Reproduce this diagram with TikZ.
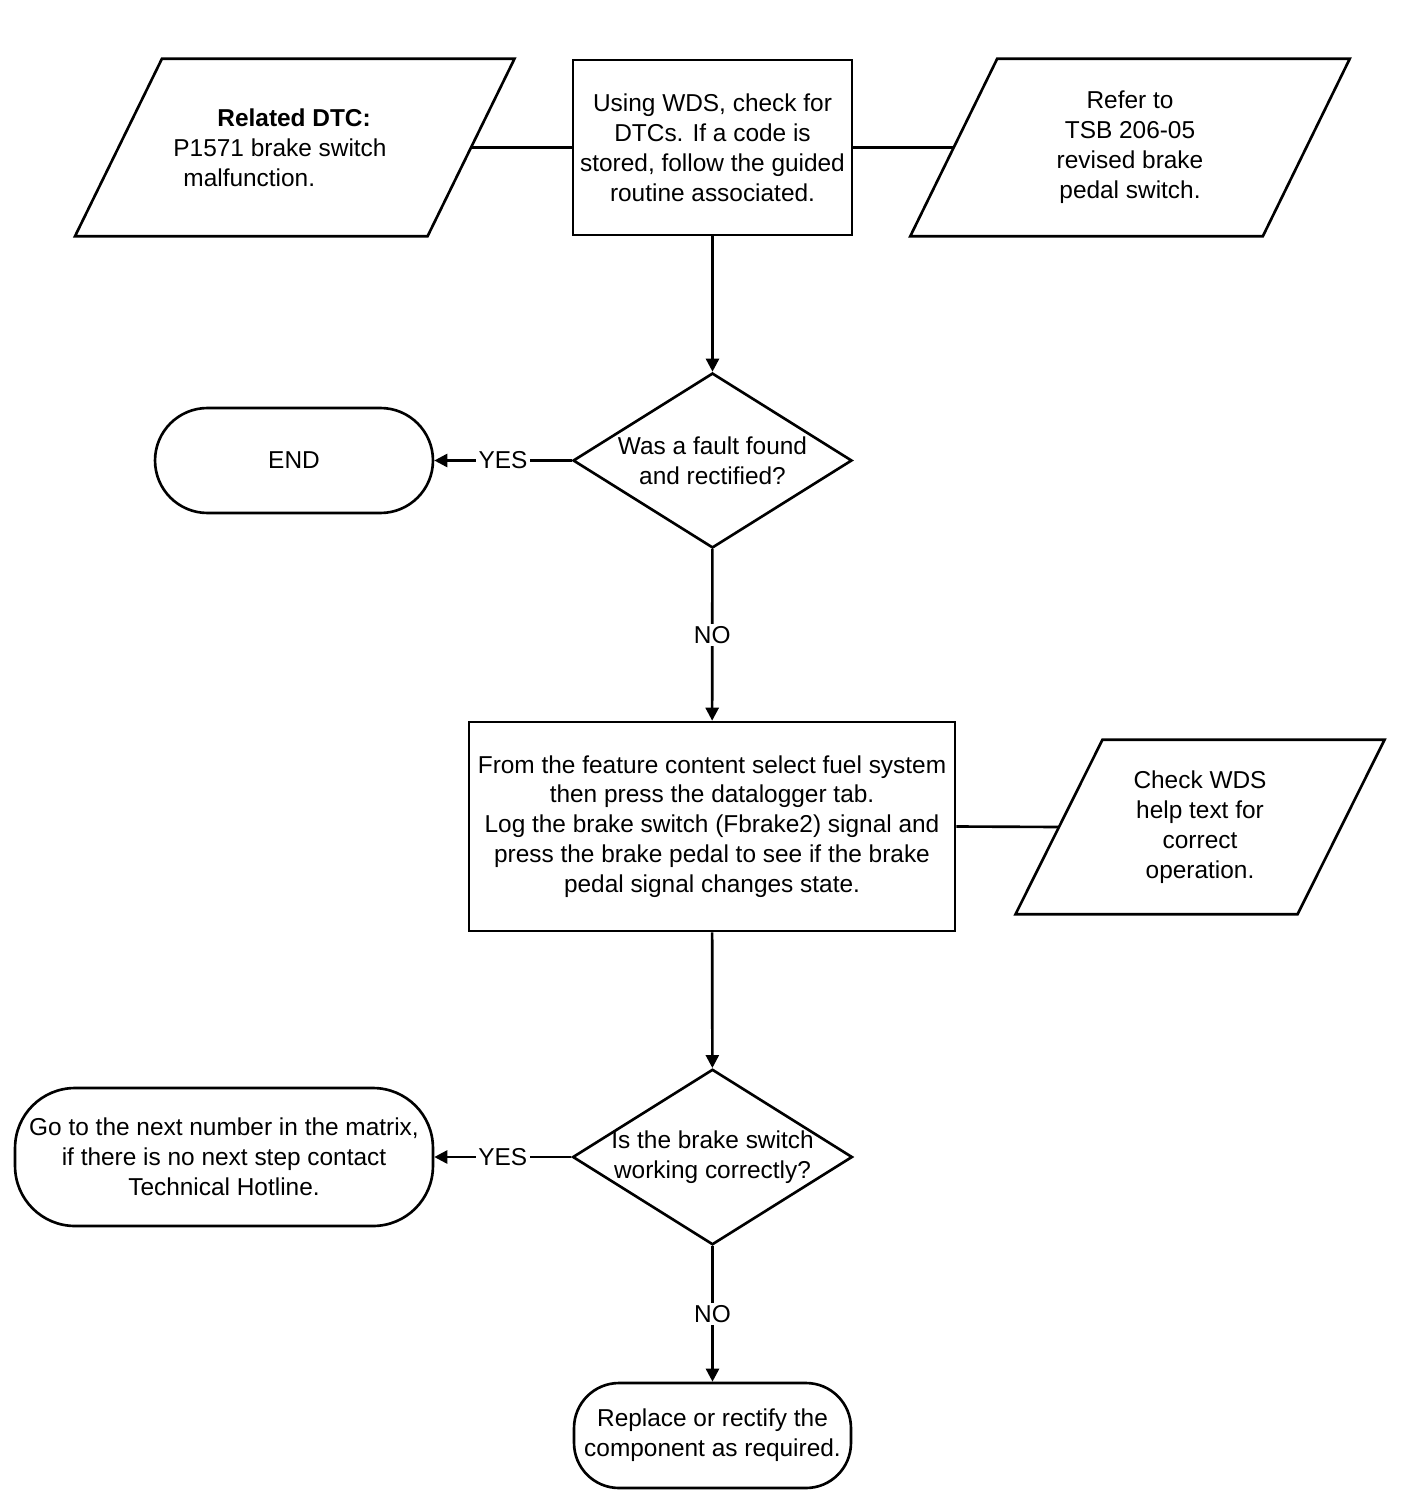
\documentclass[tikz,border=0pt]{standalone}
\usepackage{fontspec}
\setmainfont{Liberation Sans}
\usetikzlibrary{shapes.geometric,arrows.meta}

\begin{document}
\begin{tikzpicture}[x=0.02cm,y=-0.02cm,line width=1.5pt,
  every node/.style={font=\fontsize{13.9}{17}\selectfont},
  io/.style={rectangle,minimum width=7cm,minimum height=3.5cm,inner sep=0pt,align=center,
    append after command={\pgfextra{\draw ([xshift=0.87cm]\tikzlastnode.north west) -- ([xshift=0.87cm]\tikzlastnode.north east)
      -- ([xshift=-0.87cm]\tikzlastnode.south east) -- ([xshift=-0.87cm]\tikzlastnode.south west) -- cycle;}}},
  proc/.style={rectangle,draw,inner sep=0pt,align=center},
  dec/.style={diamond,draw,aspect=1.594,minimum width=5.58cm,minimum height=3.5cm,inner sep=-0.7pt,align=center},
  term/.style={rectangle,draw,inner sep=0pt,align=center},
  flow/.style={-{Triangle[length=0.26cm,width=0.26cm]}},
  lab/.style={fill=white,inner sep=1.5pt}]
\useasboundingbox (0,0) rectangle (1408,1500);

% top row
\node [io,align=left] (dtc) at (294.75,147.5) {\hspace*{0.88cm}\textbf{Related DTC:}\\P1571 brake switch\hspace*{0.59cm}\mbox{}\\\hspace*{0.2cm}malfunction.};
\node [proc,minimum width=5.58cm,minimum height=3.5cm] (wds) at (712.5,147.5) {Using WDS, check for\\DTCs. If a code is\\stored, follow the guided\\routine associated.};
\node [io] (tsb) at (1130,147.5) {Refer to\\TSB 206-05\\revised brake\\pedal switch.};

% first question
\node [dec] (fault) at (712.5,460.5) {Was a fault found\\and rectified?};
\node [term,minimum width=5.56cm,minimum height=2.1cm,rounded corners=1.05cm] (end) at (294,460.5) {END};

% datalogger step
\node [proc,minimum width=9.72cm,minimum height=4.18cm] (log) at (712,826.5) {From the feature content select fuel system\\then press the datalogger tab.\\Log the brake switch (Fbrake2) signal and\\press the brake pedal to see if the brake\\pedal signal changes state.};
\node [io,minimum width=5.59cm,minimum height=3.44cm] (chk) at (1200,827) {Check WDS\\help text for\\correct\\operation.};

% second question
\node [dec] (works) at (712.5,1157) {Is the brake switch\\working correctly?};
\node [term,minimum width=8.36cm,minimum height=2.76cm,rounded corners=1.2cm] (next) at (224,1157) {Go to the next number in the matrix,\\if there is no next step contact\\Technical Hotline.};
\node [term,minimum width=5.54cm,minimum height=2.1cm,rounded corners=0.9cm] (repl) at (712.5,1435.5) {Replace or rectify the\\component as required.};

% connectors
\draw (dtc.east) -- (wds.west);
\draw (wds.east) -- (tsb.west);
\draw [flow] (wds) -- (fault);
\draw [flow] (fault.west) -- node [lab] {YES} (end.east);
\draw [flow] (fault) -- node [lab] {NO} (log);
\draw (log.east) -- (chk.west);
\draw [flow] (log) -- (works);
\draw [flow] (works.west) -- node [lab] {YES} (next.east);
\draw [flow] (works) -- node [lab] {NO} (repl);
\end{tikzpicture}
\end{document}
